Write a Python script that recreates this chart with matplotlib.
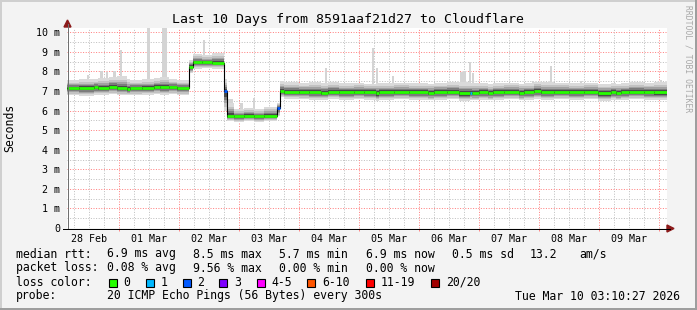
import matplotlib
matplotlib.use('Agg')
import matplotlib.pyplot as plt
from matplotlib.patches import Rectangle, Polygon
from matplotlib.lines import Line2D
import numpy as np

# ---------------- data (hours since 28 Feb 00:00) ----------------
t_start, t_end = 3.17, 243.17

step_hours = [3.2, 8, 14, 15.5, 20, 23, 27, 28.5, 33, 38, 40.5, 44, 47,
              52, 53.5, 57, 61,
              66,
              67, 70, 74, 78, 82,
              87,
              88.4, 90, 96, 100, 104.8, 107.6, 112, 118, 122, 126.8, 128, 134, 140,
              147.6, 150, 155, 160, 164.4, 165.2, 168, 171.6, 173.6, 178, 184, 186,
              190, 192.8, 198, 204, 210, 215.6, 220.8, 222.8, 224.8, 228, 234, 238]
median_ms = [7.15, 7.15, 7.20, 7.15, 7.22, 7.15, 7.10, 7.15, 7.15, 7.22, 7.20, 7.20, 7.15,
             8.25, 8.47, 8.47, 8.45,
             7.00,
             5.72, 5.70, 5.72, 5.70, 5.72,
             6.15,
             7.02, 6.97, 6.97, 6.95, 6.92, 6.97, 6.95, 6.97, 6.95, 6.88, 6.95, 6.97, 6.95,
             6.90, 6.95, 6.97, 6.88, 6.92, 6.90, 6.95, 6.90, 6.95, 6.97, 6.90, 6.95,
             7.00, 6.95, 6.97, 6.95, 6.97, 6.88, 6.95, 6.90, 6.95, 6.97, 6.95, 6.93]
smoke_lo = [6.80, 6.75, 6.80, 6.82, 6.85, 6.80, 6.78, 6.80, 6.82, 6.85, 6.80, 6.85, 6.80,
            7.90, 8.15, 8.18, 8.15,
            6.00,
            5.45, 5.42, 5.45, 5.40, 5.45,
            5.70,
            6.70, 6.60, 6.58, 6.55, 6.55, 6.60, 6.55, 6.58, 6.55, 6.50, 6.55, 6.58, 6.55,
            6.52, 6.55, 6.58, 6.50, 6.52, 6.52, 6.55, 6.52, 6.55, 6.58, 6.52, 6.55,
            6.60, 6.55, 6.58, 6.55, 6.58, 6.50, 6.55, 6.52, 6.55, 6.58, 6.55, 6.55]
smoke_hi = [7.55, 7.60, 7.60, 7.65, 7.70, 7.75, 7.60, 7.55, 7.60, 7.65, 7.70, 7.60, 7.55,
            8.60, 8.90, 8.85, 8.95,
            7.60,
            6.40, 6.10, 6.15, 6.10, 6.20,
            6.40,
            7.50, 7.45, 7.40, 7.45, 7.40, 7.45, 7.40, 7.42, 7.38, 7.40, 7.40, 7.42, 7.40,
            7.38, 7.42, 7.45, 7.45, 7.40, 7.40, 7.40, 7.35, 7.40, 7.42, 7.38, 7.40,
            7.48, 7.45, 7.42, 7.40, 7.42, 7.38, 7.40, 7.38, 7.40, 7.45, 7.42, 7.45]
loss_level = [0] * len(step_hours)
loss_level[step_hours.index(66)] = 2
loss_level[step_hours.index(87)] = 2
loss_level[step_hours.index(164.4)] = 1

spike_hours = [11.6, 17, 19.2, 22, 24.8, 35.6, 42.2, 55, 58, 61.6, 64,
               68.6, 73, 78, 106.8, 125.6, 127.2, 133.6, 160.8, 162, 164.4, 165.6,
               189.6, 196.8, 208.8, 240.8]
spike_top = [7.80, 8.00, 7.95, 8.00, 9.10, 10.25, 10.25, 8.90, 9.60, 8.95, 8.95,
             6.60, 6.40, 6.66, 8.18, 9.20, 8.20, 7.77, 7.97, 8.00, 8.48, 7.90,
             7.50, 8.28, 7.50, 7.55]
spike_width = [0.8, 1.2, 0.8, 1.2, 0.8, 1.2, 2.0, 1.0, 0.8, 0.8, 0.8,
               2.0, 1.2, 0.8, 0.8, 0.8, 0.8, 0.8, 1.2, 1.2, 0.8, 0.8,
               0.8, 0.8, 0.8, 0.8]

day_labels = ["28 Feb", "01 Mar", "02 Mar", "03 Mar", "04 Mar",
              "05 Mar", "06 Mar", "07 Mar", "08 Mar", "09 Mar"]
y_labels = ["0", "1 m", "2 m", "3 m", "4 m", "5 m", "6 m", "7 m", "8 m", "9 m", "10 m"]

loss_names = ["0", "1", "2", "3", "4-5", "6-10", "11-19", "20/20"]
loss_colors = ["#26ff00", "#00b8ff", "#0059ff", "#7e00ff", "#ff00ff",
               "#ff5500", "#ff0000", "#a10000"]

title = "Last 10 Days from 8591aaf21d27 to Cloudflare"

# ---------------- figure ----------------
W, H = 697, 310
MONO = 'DejaVu Sans Mono'
fig = plt.figure(figsize=(W / 100, H / 100), dpi=100, facecolor='#f3f3f3')


def fx(x):
    return x / W


def fy(y):
    return 1 - y / H


ax = fig.add_axes([fx(67), fy(228), (667 - 67) / W, (228 - 28) / H])
ax.set_facecolor('white')
ax.set_xlim(t_start, t_end)
ymax = 10.22
ax.set_ylim(0, ymax)

# grid (thin dotted)
PX = 0.72
grid_kw = dict(lw=PX, ls=(0, (1, 1.6)))
for h in np.arange(6, 243, 6):
    if h % 24 != 0:
        ax.axvline(h, color='#c0c0c0', zorder=0.5, **grid_kw)
for h in np.arange(24, 243, 24):
    ax.axvline(h, color='#ff8080', zorder=0.6, **grid_kw)
for v in np.arange(0.5, 10.3, 1.0):
    ax.axhline(v, color='#c0c0c0', zorder=0.5, **grid_kw)
for v in range(1, 11):
    ax.axhline(v, color='#ff8080', zorder=0.6, **grid_kw)

edges = np.array(step_hours + [t_end])
med = np.array(median_ms)
lo = np.array(smoke_lo)
hi = np.array(smoke_hi)

# spikes (light smoke peaks)
sh = np.array(spike_hours)
idx = np.searchsorted(edges, sh, side='right') - 1
ax.bar(sh, np.array(spike_top) - med[idx], bottom=med[idx], width=spike_width,
       color='#d4d4d4', linewidth=0, zorder=1)

# smoke layers (lighter outside, darker toward the median)
fracs = [1.0, 0.80, 0.62, 0.46, 0.30]
grays = ['#dadada', '#c2c2c2', '#a2a2a2', '#7c7c7c', '#4a4a4a']
up_scale = [1.0, 0.7, 0.5, 0.35, 0.2]
for f, g, u in zip(fracs, grays, up_scale):
    lower = med - (med - lo) * f
    upper = med + (hi - med) * u
    ax.fill_between(edges, np.append(lower, lower[-1]), np.append(upper, upper[-1]),
                    step='post', color=g, linewidth=0, zorder=2)

# median line
ax.step(edges, np.append(med, med[-1]), where='post', color='black', lw=0.8, zorder=3)
for i in range(len(med)):
    ax.hlines(med[i], edges[i], edges[i + 1], color=loss_colors[loss_level[i]],
              lw=2.0, zorder=4)

# axes styling
for s in ['top', 'right', 'left', 'bottom']:
    ax.spines[s].set_visible(False)

ax.set_yticks(range(11))
ax.set_yticklabels(y_labels, fontfamily=MONO, fontsize=7.2)
ax.tick_params(axis='y', length=0, pad=5)
ax.set_xticks([12 + 24 * k for k in range(10)])
ax.set_xticklabels(day_labels, fontfamily=MONO, fontsize=7.2)
ax.tick_params(axis='x', length=0, pad=4)
ax.set_xticks(np.arange(24, 243, 24), minor=True)
ax.tick_params(axis='x', which='minor', length=2, color='#ff8080', width=0.7)

# axis lines and arrows (figure pixel space)
fig.add_artist(Line2D([fx(67.5), fx(67.5)], [fy(228), fy(24)], color='#707070', lw=0.72))
fig.add_artist(Line2D([fx(63), fx(670)], [fy(228.5), fy(228.5)], color='black', lw=0.72))
fig.add_artist(Polygon([[fx(64), fy(27)], [fx(71), fy(27)], [fx(67.5), fy(20)]],
                       closed=True, color='#8b1a1a'))
fig.add_artist(Polygon([[fx(667), fy(225)], [fx(667), fy(232)], [fx(674), fy(228.5)]],
                       closed=True, color='#8b1a1a'))

# title and labels
fig.text(fx(348), fy(19), title, fontfamily=MONO, fontsize=9.5, ha='center', va='center')
fig.text(fx(10), fy(128), "Seconds", fontfamily=MONO, fontsize=8.3, rotation=90,
         ha='center', va='center')
fig.text(fx(688), fy(59), "RRDTOOL / TOBI OETIKER", fontfamily=MONO, fontsize=5.8,
         rotation=270, ha='center', va='center', color='#a8a8a8')

# legend block
LF = 8.3
rows = {
    254: [(16, "median rtt:"), (107, "6.9 ms avg"), (193, "8.5 ms max"), (279, "5.7 ms min"),
          (366, "6.9 ms now"), (452, "0.5 ms sd"), (530, "13.2"), (579, "am/s")],
    268: [(16, "packet loss:"), (107, "0.08 % avg"), (193, "9.56 % max"),
          (279, "0.00 % min"), (366, "0.00 % now")],
    282: [(16, "loss color:")],
    296: [(16, "probe:"), (107, "20 ICMP Echo Pings (56 Bytes) every 300s")],
}
for y, items in rows.items():
    for x, s in items:
        fig.text(fx(x), fy(y), s, fontfamily=MONO, fontsize=LF, ha='left', va='center')
fig.text(fx(680), fy(296), "Tue Mar 10 03:10:27 2026", fontfamily=MONO, fontsize=LF,
         ha='right', va='center')

box_x = [109, 146, 183, 219, 257, 307, 366, 431]
lab_x = [123, 161, 197, 234, 271, 322, 381, 446]
for bx, lx, name, col in zip(box_x, lab_x, loss_names, loss_colors):
    fig.add_artist(Rectangle((fx(bx), fy(287)), 8 / W, 8 / H, facecolor=col,
                             edgecolor='black', linewidth=0.8))
    fig.text(fx(lx), fy(282), name, fontfamily=MONO, fontsize=LF, ha='left', va='center')

# frame
fig.add_artist(Rectangle((0, 0), 1, 2 / H, facecolor='#9e9e9e', edgecolor='none'))
fig.add_artist(Rectangle((1 - 2 / W, 0), 2 / W, 1, facecolor='#9e9e9e', edgecolor='none'))
fig.add_artist(Rectangle((0, 1 - 2 / H), 1 - 2 / W, 2 / H, facecolor='#cfcfcf', edgecolor='none'))
fig.add_artist(Rectangle((0, 2 / H), 2 / W, 1 - 2 / H, facecolor='#cfcfcf', edgecolor='none'))

fig.savefig('out.png', dpi=100, facecolor=fig.get_facecolor())
